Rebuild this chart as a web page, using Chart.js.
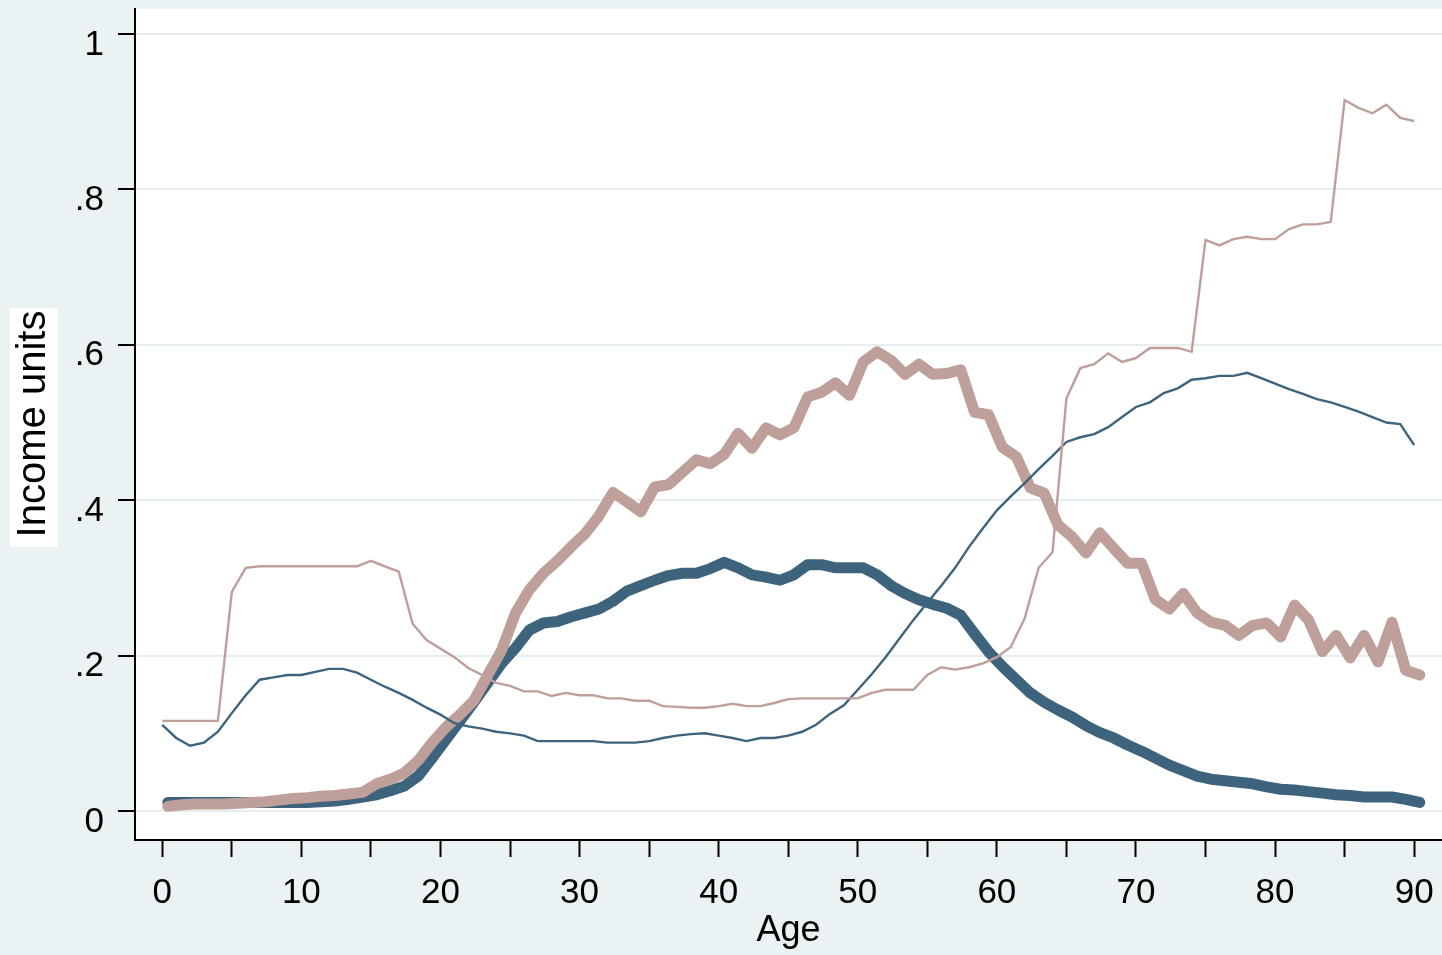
<!DOCTYPE html>
<html>
<head>
<meta charset="utf-8">
<script src="https://cdn.jsdelivr.net/npm/chart.js@4"></script>
<style>
  html, body { margin: 0; padding: 0; background: #eaf2f3; }
  #wrap { width: 1442px; height: 955px; }
</style>
</head>
<body>
<div id="wrap"><canvas id="chart" width="1442" height="955"></canvas></div>
<script>
// ages (x) and the four income series

const ages = [
  0, 1, 2, 3, 4, 5, 6, 7, 8, 9, 10, 11, 12, 13, 14, 15, 16, 17, 18, 19,
  20, 21, 22, 23, 24, 25, 26, 27, 28, 29, 30, 31, 32, 33, 34, 35, 36, 37, 38, 39,
  40, 41, 42, 43, 44, 45, 46, 47, 48, 49, 50, 51, 52, 53, 54, 55, 56, 57, 58, 59,
  60, 61, 62, 63, 64, 65, 66, 67, 68, 69, 70, 71, 72, 73, 74, 75, 76, 77, 78, 79,
  80, 81, 82, 83, 84, 85, 86, 87, 88, 89, 90,
];

// the thick series sit a little to the right of the whole ages
const thickAgeShift = 0.4;

const thickRose = [
  0.006, 0.008, 0.009, 0.009, 0.009, 0.01, 0.011, 0.012, 0.014, 0.016,
  0.017, 0.019, 0.02, 0.022, 0.024, 0.035, 0.041, 0.049, 0.065, 0.088,
  0.108, 0.124, 0.142, 0.175, 0.207, 0.255, 0.285, 0.306, 0.322, 0.34,
  0.357, 0.38, 0.41, 0.398, 0.385, 0.417, 0.42, 0.436, 0.452, 0.447,
  0.459, 0.486, 0.467, 0.493, 0.484, 0.493, 0.533, 0.539, 0.551, 0.535,
  0.578, 0.591, 0.58, 0.562, 0.575, 0.562, 0.563, 0.568, 0.513, 0.51,
  0.468, 0.456, 0.416, 0.409, 0.368, 0.353, 0.332, 0.358, 0.338, 0.319,
  0.319, 0.272, 0.26, 0.28, 0.255, 0.243, 0.239, 0.226, 0.239, 0.242,
  0.224, 0.265, 0.246, 0.205, 0.226, 0.197, 0.226, 0.192, 0.243, 0.181,
  0.175,
];

const thickBlue = [
  0.011, 0.011, 0.011, 0.011, 0.011, 0.011, 0.011, 0.011, 0.011, 0.011,
  0.011, 0.012, 0.013, 0.015, 0.018, 0.021, 0.026, 0.032, 0.045, 0.068,
  0.092, 0.116, 0.14, 0.165, 0.19, 0.21, 0.233, 0.242, 0.244, 0.25,
  0.255, 0.26, 0.27, 0.283, 0.29, 0.297, 0.303, 0.306, 0.306, 0.312,
  0.32, 0.313, 0.304, 0.301, 0.297, 0.304, 0.317, 0.317, 0.313, 0.313,
  0.313, 0.304, 0.29, 0.28, 0.272, 0.266, 0.261, 0.252, 0.228, 0.205,
  0.186, 0.169, 0.152, 0.14, 0.13, 0.121, 0.11, 0.101, 0.094, 0.085,
  0.077, 0.068, 0.059, 0.052, 0.045, 0.041, 0.039, 0.037, 0.035, 0.031,
  0.028, 0.027, 0.025, 0.023, 0.021, 0.02, 0.018, 0.018, 0.018, 0.015,
  0.011,
];

const thinRose = [
  0.116, 0.116, 0.116, 0.116, 0.116, 0.282, 0.313, 0.315, 0.315, 0.315,
  0.315, 0.315, 0.315, 0.315, 0.315, 0.322, 0.315, 0.308, 0.241, 0.22,
  0.209, 0.198, 0.184, 0.175, 0.165, 0.161, 0.154, 0.154, 0.148, 0.152,
  0.149, 0.149, 0.145, 0.145, 0.142, 0.142, 0.135, 0.134, 0.133, 0.133,
  0.135, 0.138, 0.135, 0.135, 0.139, 0.144, 0.145, 0.145, 0.145, 0.145,
  0.145, 0.152, 0.156, 0.156, 0.156, 0.175, 0.185, 0.182, 0.185, 0.19,
  0.198, 0.211, 0.248, 0.313, 0.333, 0.531, 0.57, 0.575, 0.589, 0.578,
  0.583, 0.596, 0.596, 0.596, 0.591, 0.735, 0.728, 0.736, 0.739, 0.736,
  0.736, 0.749, 0.755, 0.755, 0.758, 0.915, 0.905, 0.898, 0.909, 0.892,
  0.888,
];

const thinBlue = [
  0.111, 0.094, 0.084, 0.088, 0.102, 0.126, 0.149, 0.169, 0.172, 0.175,
  0.175, 0.179, 0.183, 0.183, 0.178, 0.169, 0.16, 0.152, 0.143, 0.133,
  0.124, 0.113, 0.109, 0.106, 0.102, 0.1, 0.097, 0.09, 0.09, 0.09,
  0.09, 0.09, 0.088, 0.088, 0.088, 0.09, 0.094, 0.097, 0.099, 0.1,
  0.097, 0.094, 0.09, 0.094, 0.094, 0.097, 0.102, 0.111, 0.125, 0.136,
  0.156, 0.176, 0.198, 0.222, 0.246, 0.268, 0.29, 0.313, 0.34, 0.364,
  0.387, 0.405, 0.422, 0.44, 0.457, 0.475, 0.481, 0.485, 0.494, 0.507,
  0.52, 0.526, 0.538, 0.544, 0.555, 0.557, 0.56, 0.56, 0.564, 0.557,
  0.55, 0.543, 0.537, 0.53, 0.526, 0.52, 0.514, 0.507, 0.5, 0.498,
  0.471,
];

// tick positions and labels
const xTicks = [0, 5, 10, 15, 20, 25, 30, 35, 40, 45, 50, 55, 60, 65, 70, 75, 80, 85, 90];
const xLabeled = [0, 10, 20, 30, 40, 50, 60, 70, 80, 90];
const yTicks = [0, 0.2, 0.4, 0.6, 0.8, 1];
const yTickLabels = ["0", ".2", ".4", ".6", ".8", "1"];

const xTitle = "Age";
const yTitle = "Income units";

const blue = "#3e647d";
const rose = "#bf9f99";
const font = "'Liberation Sans', Arial, sans-serif";

const toPoints = (xs, ys, shift) => xs.map((x, i) => ({ x: x + shift, y: ys[i] }));

// backgrounds: light outer region, white plot region
const backgroundPlugin = {
  id: "backgrounds",
  beforeDraw(chart) {
    const { ctx, chartArea } = chart;
    ctx.save();
    ctx.fillStyle = "#eaf2f3";
    ctx.fillRect(0, 0, chart.width, chart.height);
    ctx.fillStyle = "#ffffff";
    ctx.fillRect(chartArea.left, chartArea.top, chartArea.right - chartArea.left, chartArea.bottom - chartArea.top);
    ctx.restore();
  },
};

// y title sits on a white box, as in the picture
const yTitlePlugin = {
  id: "yTitle",
  afterDraw(chart) {
    const { ctx } = chart;
    ctx.save();
    ctx.fillStyle = "#ffffff";
    ctx.fillRect(10, 308, 48, 239);
    ctx.translate(45, 424);
    ctx.rotate(-Math.PI / 2);
    ctx.fillStyle = "#000000";
    ctx.font = "40px " + font;
    ctx.textAlign = "center";
    ctx.textBaseline = "alphabetic";
    ctx.fillText(yTitle, 0, 0);
    ctx.restore();
  },
};

// no extra room for overflowing tick labels: the plot box is fixed
const noLabelPadding = (scale) => {
  scale.paddingTop = 0;
  scale.paddingBottom = 0;
  scale.paddingLeft = 0;
  scale.paddingRight = 0;
};

const ctx = document.getElementById("chart");

new Chart(ctx, {
  type: "line",
  data: {
    datasets: [
      {
        label: "thin rose",
        data: toPoints(ages, thinRose, 0),
        borderColor: rose,
        borderWidth: 2.4,
        order: 0,
      },
      {
        label: "thin blue",
        data: toPoints(ages, thinBlue, 0),
        borderColor: blue,
        borderWidth: 2.4,
        order: 1,
      },
      {
        label: "thick rose",
        data: toPoints(ages, thickRose, thickAgeShift),
        borderColor: rose,
        borderWidth: 11,
        borderCapStyle: "round",
        borderJoinStyle: "round",
        order: 2,
      },
      {
        label: "thick blue",
        data: toPoints(ages, thickBlue, thickAgeShift),
        borderColor: blue,
        borderWidth: 11,
        borderCapStyle: "round",
        borderJoinStyle: "round",
        order: 3,
      },
    ],
  },
  options: {
    responsive: false,
    animation: false,
    devicePixelRatio: 1,
    layout: { padding: { top: 9, right: 0, bottom: 0, left: 0 } },
    elements: {
      point: { radius: 0 },
      line: { tension: 0, fill: false },
    },
    plugins: {
      legend: { display: false },
      tooltip: { enabled: false },
    },
    scales: {
      x: {
        type: "linear",
        min: -1.96,
        max: 92,
        afterBuildTicks: (scale) => {
          scale.ticks = xTicks.map((v) => ({ value: v }));
        },
        afterFit: (scale) => {
          scale.height = 115;
          noLabelPadding(scale);
        },
        grid: {
          drawOnChartArea: false,
          drawTicks: true,
          tickLength: 17,
          tickWidth: 2,
          tickColor: "#000000",
        },
        border: { display: true, color: "#000000", width: 2 },
        ticks: {
          autoSkip: false,
          maxRotation: 0,
          padding: 15,
          color: "#000000",
          font: { family: font, size: 35 },
          callback: (value) => (xLabeled.includes(value) ? String(value) : ""),
        },
        title: {
          display: true,
          text: xTitle,
          color: "#000000",
          font: { family: font, size: 36 },
          padding: { top: 0, bottom: 2 },
        },
      },
      y: {
        type: "linear",
        min: -0.0373,
        max: 1.0322,
        afterBuildTicks: (scale) => {
          scale.ticks = yTicks.map((v) => ({ value: v }));
        },
        afterFit: (scale) => {
          scale.width = 135;
          noLabelPadding(scale);
        },
        grid: {
          drawOnChartArea: true,
          color: "#e6eef0",
          lineWidth: 2,
          drawTicks: true,
          tickLength: 17,
          tickWidth: 2,
          tickColor: "#000000",
        },
        border: { display: true, color: "#000000", width: 2 },
        ticks: {
          autoSkip: false,
          padding: 14,
          labelOffset: 11,
          color: "#000000",
          font: { family: font, size: 35 },
          callback: (value) => {
            const i = yTicks.findIndex((t) => Math.abs(t - value) < 1e-9);
            return i >= 0 ? yTickLabels[i] : "";
          },
        },
        title: { display: false },
      },
    },
  },
  plugins: [backgroundPlugin, yTitlePlugin],
});
</script>
</body>
</html>
